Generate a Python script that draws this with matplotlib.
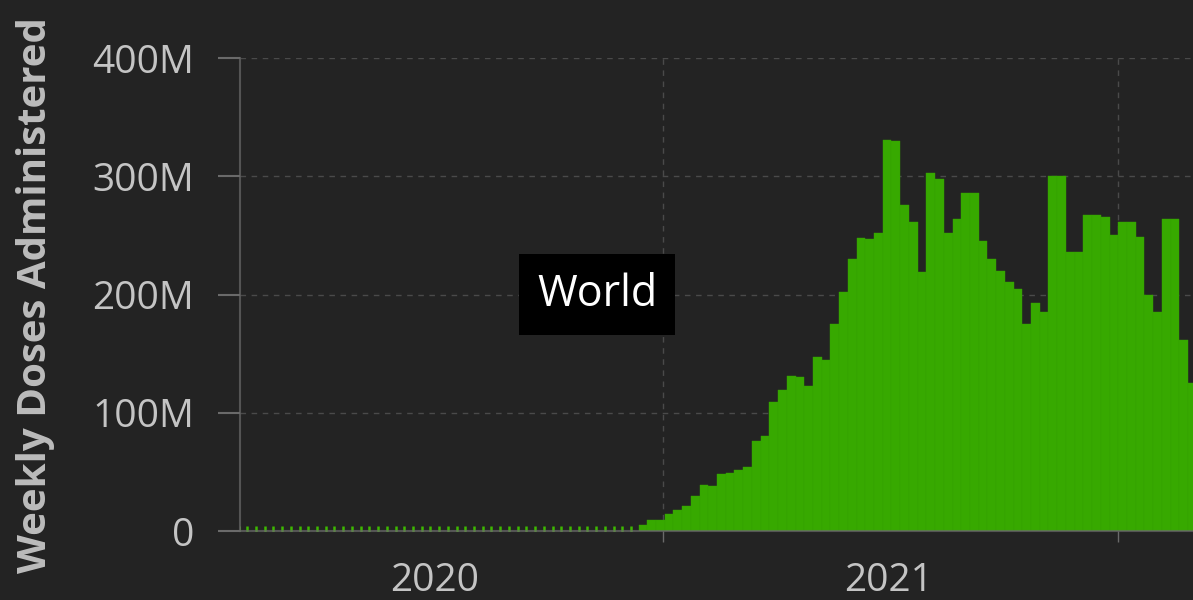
import matplotlib.pyplot as plt
import matplotlib.dates as mdates
import numpy as np
import pandas as pd

plt.rcParams['font.family'] = ['Open Sans', 'DejaVu Sans']

# weeks with no doses reported (start of the x range up to the first doses)
zero_weeks = pd.date_range('2020-01-25', periods=46, freq='7D')
zero_doses = [0] * len(zero_weeks)

# weekly doses (millions), starting 2020-12-12
dose_weeks = pd.date_range('2020-12-12', periods=64, freq='7D')
doses_m = [5, 9, 9, 14, 18, 21, 30, 39, 38, 48,
           49, 52, 54, 76, 80, 109, 119, 131, 130, 123,
           147, 145, 175, 202, 230, 248, 247, 252, 331, 330,
           276, 261, 219, 303, 298, 252, 264, 286, 286, 245,
           230, 220, 211, 205, 175, 193, 185, 300, 300, 236,
           236, 267, 267, 266, 250, 261, 261, 249, 200, 185,
           264, 264, 162, 125]

bg = '#232323'
green = '#37a900'
fig = plt.figure(figsize=(11.93, 6), dpi=100, facecolor=bg)
ax = fig.add_axes([0.201, 0.115, 0.799, 0.788], facecolor=bg)

ax.bar(dose_weeks, np.array(doses_m) * 1e6, width=7, align='edge',
       color=green, edgecolor='#33a200', linewidth=0.3, zorder=2)
ax.plot(zero_weeks + pd.Timedelta(days=1), zero_doses, '|', color='#3db800',
        markersize=7, markeredgewidth=1.8, zorder=3)

ax.set_ylim(0, 400e6)
ax.set_xlim(pd.Timestamp('2020-01-27'), pd.Timestamp('2022-03-02'))
ax.set_yticks([0, 100e6, 200e6, 300e6, 400e6])
ax.set_yticklabels(['0', '100M', '200M', '300M', '400M'])

ax.xaxis.set_major_locator(mdates.YearLocator())
ax.xaxis.set_major_formatter(plt.NullFormatter())
ax.xaxis.set_minor_locator(mdates.MonthLocator(bymonth=7, bymonthday=1))
ax.xaxis.set_minor_formatter(mdates.DateFormatter('%Y'))

for s in ['top', 'right']:
    ax.spines[s].set_visible(False)
for s in ['left', 'bottom']:
    ax.spines[s].set_color('#6a6a6a')
    ax.spines[s].set_linewidth(1.5)
    ax.spines[s].set_alpha(0.7)
    ax.spines[s].set_zorder(4)

ax.grid(True, which='major', color='#4a4a4a', linestyle=(0, (4, 4)), linewidth=1)
ax.set_axisbelow(True)

ax.tick_params(axis='y', colors='#6a6a6a', labelcolor='#c4c4c4', labelsize=28,
               length=16, width=1.5, pad=17)
ax.tick_params(axis='x', which='major', colors='#6a6a6a', length=8, width=1)
ax.tick_params(axis='x', which='minor', length=0, labelcolor='#c4c4c4',
               labelsize=28, pad=22)

ax.set_ylabel('Weekly Doses Administered', color='#bcbcbc', fontsize=29,
              fontweight='bold')
ax.yaxis.set_label_coords(-0.194, 0.5)

ax.text(0.375, 0.50, 'World', transform=ax.transAxes, ha='center', va='center',
        color='white', fontsize=31,
        bbox=dict(boxstyle='square,pad=0.42', facecolor='black', edgecolor='none'))

fig.savefig('out.png', dpi=100, facecolor=bg)
